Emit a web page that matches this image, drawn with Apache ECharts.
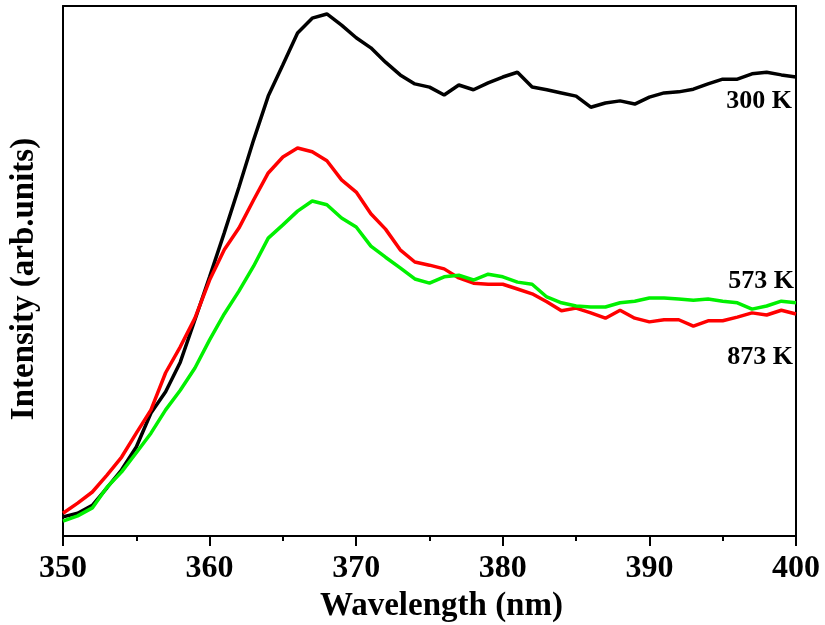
<!DOCTYPE html>
<html>
<head>
<meta charset="utf-8">
<script src="https://cdn.jsdelivr.net/npm/echarts@6/dist/echarts.min.js"></script>
<style>
  html, body { margin: 0; padding: 0; background: #fff; }
  #chart { width: 825px; height: 625px; }
</style>
</head>
<body>
<div id="chart"></div>
<script>
// wavelength (nm)
const wavelength = [350, 351, 352, 353, 354, 355, 356, 357, 358, 359,
  360, 361, 362, 363, 364, 365, 366, 367, 368, 369,
  370, 371, 372, 373, 374, 375, 376, 377, 378, 379,
  380, 381, 382, 383, 384, 385, 386, 387, 388, 389,
  390, 391, 392, 393, 394, 395, 396, 397, 398, 399, 400];

// intensity, arb. units
const k300 = [3.6, 4.3, 5.8, 9.1, 12.5, 16.8, 23.2, 27.2, 32.8, 40.8,
  48.9, 57.2, 65.8, 74.7, 83.0, 88.9, 94.9, 97.7, 98.5, 96.4,
  94.0, 92.1, 89.4, 87.0, 85.3, 84.7, 83.2, 85.1, 84.2, 85.5,
  86.6, 87.5, 84.7, 84.2, 83.6, 83.0, 80.9, 81.7, 82.1, 81.5,
  82.8, 83.6, 83.8, 84.3, 85.3, 86.2, 86.2, 87.2, 87.5, 87.0, 86.6];

const k873 = [4.3, 6.2, 8.3, 11.5, 14.9, 19.4, 23.8, 30.8, 35.7, 41.1,
  48.3, 54.0, 58.1, 63.4, 68.5, 71.5, 73.2, 72.5, 70.8, 67.2,
  64.9, 60.8, 57.9, 54.0, 51.7, 51.1, 50.4, 48.7, 47.7, 47.5,
  47.5, 46.6, 45.7, 44.2, 42.5, 43.0, 42.1, 41.1, 42.6, 41.1,
  40.4, 40.8, 40.8, 39.6, 40.6, 40.6, 41.3, 42.1, 41.7, 42.6, 41.9];

const k573 = [2.8, 3.8, 5.3, 9.2, 12.1, 15.7, 19.4, 23.8, 27.5, 31.7,
  37.0, 41.9, 46.2, 50.9, 56.2, 58.7, 61.3, 63.2, 62.5, 60.0,
  58.3, 54.7, 52.6, 50.6, 48.5, 47.7, 48.9, 49.2, 48.3, 49.4,
  48.9, 47.9, 47.5, 45.1, 44.0, 43.4, 43.2, 43.2, 44.0, 44.3,
  44.9, 44.9, 44.7, 44.5, 44.7, 44.3, 44.0, 42.8, 43.4, 44.3, 44.0];

const xTicks = [350, 360, 370, 380, 390, 400];

const serif = "'Liberation Serif', 'Times New Roman', serif";

function pairs(ys) {
  return wavelength.map((x, i) => [x, ys[i]]);
}

const chart = echarts.init(document.getElementById("chart"));

chart.setOption({
  animation: false,
  grid: {
    left: 63,
    right: 29,
    top: 6,
    bottom: 89,
    containLabel: false,
    outerBoundsMode: "none",
  },
  xAxis: [
    {
      type: "value",
      min: xTicks[0],
      max: xTicks[xTicks.length - 1],
      interval: 10,
      name: "Wavelength (nm)",
      nameLocation: "middle",
      nameGap: 52,
      nameTextStyle: {
        fontFamily: serif,
        fontWeight: "bold",
        fontSize: 33,
        color: "#000",
        padding: [0, 0, 0, 24],
      },
      axisLine: { lineStyle: { color: "#000", width: 2 } },
      axisTick: { inside: false, length: 10, lineStyle: { color: "#000", width: 2 } },
      minorTick: { show: true, splitNumber: 2, length: 5, lineStyle: { color: "#000", width: 2 } },
      axisLabel: {
        margin: 17,
        fontFamily: serif,
        fontWeight: "bold",
        fontSize: 32,
        color: "#000",
      },
      splitLine: { show: false },
    },
    {
      type: "value",
      position: "top",
      min: 350,
      max: 400,
      axisLine: { show: true, onZero: false, lineStyle: { color: "#000", width: 2 } },
      axisTick: { show: false },
      axisLabel: { show: false },
      splitLine: { show: false },
    },
  ],
  yAxis: [
    {
      type: "value",
      min: 0,
      max: 100,
      name: "Intensity (arb.units)",
      nameLocation: "middle",
      nameGap: 22,
      nameTextStyle: {
        fontFamily: serif,
        fontWeight: "bold",
        fontSize: 33,
        color: "#000",
        padding: [0, 16, 0, 0],
      },
      axisLine: { show: true, lineStyle: { color: "#000", width: 2 } },
      axisTick: { show: false },
      axisLabel: { show: false },
      splitLine: { show: false },
    },
    {
      type: "value",
      position: "right",
      min: 0,
      max: 100,
      axisLine: { show: true, onZero: false, lineStyle: { color: "#000", width: 2 } },
      axisTick: { show: false },
      axisLabel: { show: false },
      splitLine: { show: false },
    },
  ],
  series: [
    {
      name: "300 K",
      type: "line",
      data: pairs(k300),
      showSymbol: false,
      lineStyle: { color: "#000000", width: 3.5 },
    },
    {
      name: "873 K",
      type: "line",
      data: pairs(k873),
      showSymbol: false,
      lineStyle: { color: "#ff0000", width: 3.5 },
    },
    {
      name: "573 K",
      type: "line",
      data: pairs(k573),
      showSymbol: false,
      lineStyle: { color: "#00f000", width: 3.5 },
    },
  ],
  graphic: [
    {
      type: "text",
      x: 792,
      y: 101,
      style: { text: "300 K", font: "bold 26px " + serif, fill: "#000", textAlign: "right", textVerticalAlign: "middle" },
    },
    {
      type: "text",
      x: 794,
      y: 281,
      style: { text: "573 K", font: "bold 26px " + serif, fill: "#000", textAlign: "right", textVerticalAlign: "middle" },
    },
    {
      type: "text",
      x: 793,
      y: 357,
      style: { text: "873 K", font: "bold 26px " + serif, fill: "#000", textAlign: "right", textVerticalAlign: "middle" },
    },
  ],
});
</script>
</body>
</html>
